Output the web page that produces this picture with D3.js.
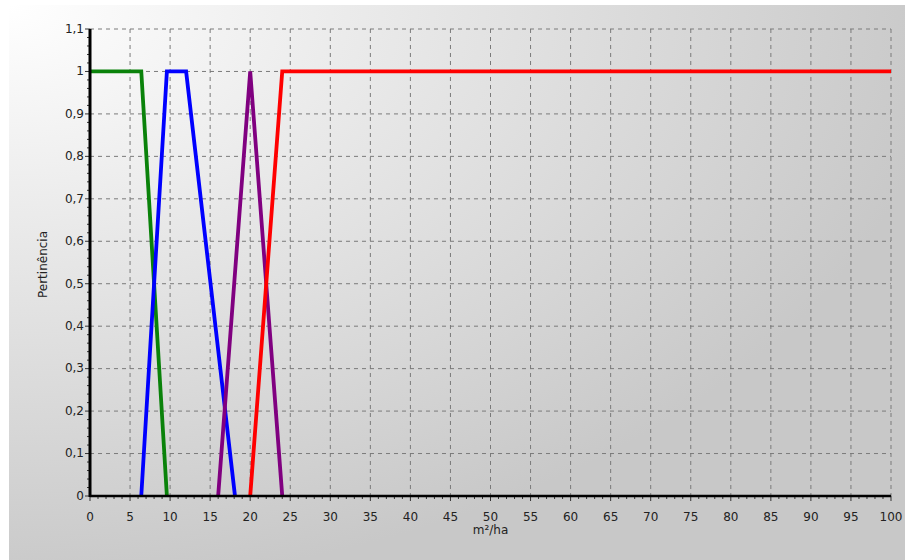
<!DOCTYPE html>
<html>
<head>
<meta charset="utf-8">
<script src="https://cdn.jsdelivr.net/npm/d3@7"></script>
<style>
  body { margin: 0; background: #fff; }
  text { font-family: "DejaVu Sans", Verdana, sans-serif; font-size: 12px; fill: #222; }
</style>
</head>
<body>
<div id="chart"></div>
<script>
// membership functions (x in m²/ha, y = pertinência)
const greenX = [0, 6.4, 9.6];
const greenY = [1, 1, 0];
const blueX = [6.4, 9.6, 12, 18.1];
const blueY = [0, 1, 1, 0];
const purpleX = [16, 20, 24];
const purpleY = [0, 1, 0];
const redX = [20, 24, 100];
const redY = [0, 1, 1];

const xTicks = [0,5,10,15,20,25,30,35,40,45,50,55,60,65,70,75,80,85,90,95,100];
const yTicks = [0,0.1,0.2,0.3,0.4,0.5,0.6,0.7,0.8,0.9,1,1.1];

const series = [
  {x: greenX, y: greenY, color: "#0a820a"},
  {x: blueX, y: blueY, color: "#0000ff"},
  {x: purpleX, y: purpleY, color: "#800080"},
  {x: redX, y: redY, color: "#ff0000"}
];

const W = 905, H = 560;
const margin = {top:29, right:14, bottom:64, left:90};
const width = W - margin.left - margin.right;
const height = H - margin.top - margin.bottom;

const svg = d3.select("#chart").append("svg")
  .attr("width", W)
  .attr("height", H);

// background panel with gradient
const defs = svg.append("defs");
const grad = defs.append("radialGradient")
  .attr("id", "bg")
  .attr("cx", 0).attr("cy", 0).attr("r", 1.05)
  .attr("fx", 0).attr("fy", 0);
grad.append("stop").attr("offset", "0%").attr("stop-color", "#ffffff");
grad.append("stop").attr("offset", "45%").attr("stop-color", "#e6e6e6");
grad.append("stop").attr("offset", "100%").attr("stop-color", "#c8c8c8");

svg.append("rect")
  .attr("x", 9).attr("y", 5)
  .attr("width", W - 9).attr("height", H - 5)
  .attr("fill", "url(#bg)");

const chart = svg.append("g")
  .attr("transform", "translate(" + margin.left + "," + margin.top + ")");

const x = d3.scaleLinear().domain([0, 100]).range([0, width]);
const y = d3.scaleLinear().domain([0, 1.1]).range([height, 0]);

const fmt = d => String(+d.toFixed(1)).replace(".", ",");

// grid
chart.append("g")
  .selectAll("line")
  .data(xTicks.slice(1))
  .enter().append("line")
  .attr("x1", d => x(d)).attr("x2", d => x(d))
  .attr("y1", 0).attr("y2", height)
  .attr("stroke", "#7a7a7a").attr("stroke-width", 1)
  .attr("stroke-dasharray", "4,4");

chart.append("g")
  .selectAll("line")
  .data(yTicks.slice(1))
  .enter().append("line")
  .attr("x1", 0).attr("x2", width)
  .attr("y1", d => y(d)).attr("y2", d => y(d))
  .attr("stroke", "#7a7a7a").attr("stroke-width", 1)
  .attr("stroke-dasharray", "4,4");

// minor ticks
const xMinor = d3.range(0, 101, 1);
chart.append("g")
  .selectAll("line")
  .data(xMinor)
  .enter().append("line")
  .attr("x1", d => x(d)).attr("x2", d => x(d))
  .attr("y1", height).attr("y2", d => height + (d % 5 === 0 ? 5 : 3))
  .attr("stroke", "#333").attr("stroke-width", 1);

const yMinor = d3.range(0, 56).map(i => i * 0.02);
chart.append("g")
  .selectAll("line")
  .data(yMinor)
  .enter().append("line")
  .attr("y1", d => y(d)).attr("y2", d => y(d))
  .attr("x1", 0).attr("x2", (d, i) => (i % 5 === 0 ? -5 : -3))
  .attr("stroke", "#333").attr("stroke-width", 1);

// lines
const line = d3.line().x(d => x(d[0])).y(d => y(d[1]));
chart.append("g")
  .selectAll("path")
  .data(series)
  .enter().append("path")
  .attr("d", s => line(s.x.map((v, i) => [v, s.y[i]])))
  .attr("fill", "none")
  .attr("stroke", s => s.color)
  .attr("stroke-width", 3.8)
  .attr("stroke-linejoin", "miter");

// axis lines
chart.append("line")
  .attr("x1", 0).attr("x2", 0).attr("y1", 0).attr("y2", height + 1)
  .attr("stroke", "#000").attr("stroke-width", 3);
chart.append("line")
  .attr("x1", 0).attr("x2", width).attr("y1", height).attr("y2", height)
  .attr("stroke", "#000").attr("stroke-width", 2.5);

// tick labels
chart.append("g")
  .selectAll("text")
  .data(xTicks)
  .enter().append("text")
  .attr("x", d => x(d))
  .attr("y", height + 25)
  .attr("text-anchor", "middle")
  .text(d => d);

chart.append("g")
  .selectAll("text")
  .data(yTicks)
  .enter().append("text")
  .attr("x", -6)
  .attr("y", d => y(d))
  .attr("dy", "0.32em")
  .attr("text-anchor", "end")
  .text(fmt);

// axis titles
chart.append("text")
  .attr("x", width / 2)
  .attr("y", height + 38)
  .attr("text-anchor", "middle")
  .text("m²/ha");

chart.append("text")
  .attr("transform", "translate(-43," + (height / 2 + 2) + ") rotate(-90)")
  .attr("text-anchor", "middle")
  .text("Pertinência");
</script>
</body>
</html>
